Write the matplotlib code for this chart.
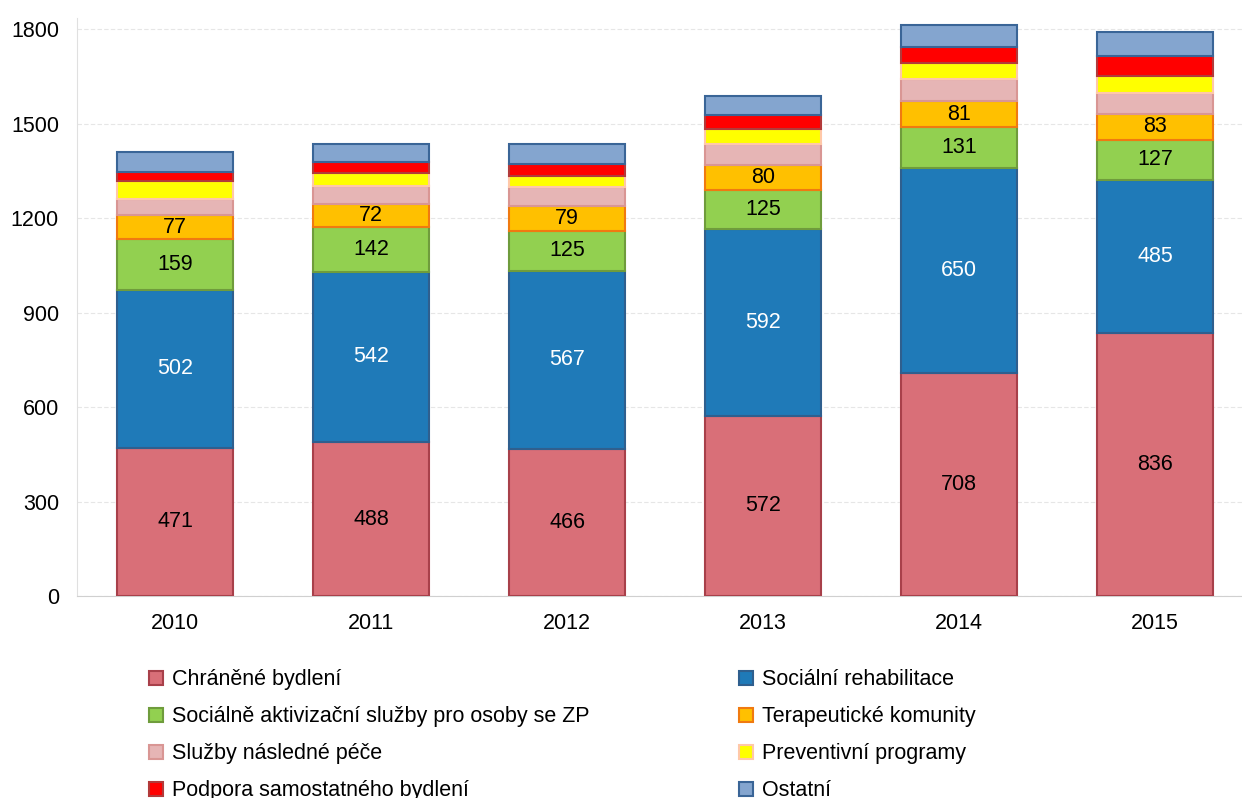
import matplotlib
matplotlib.use("Agg")
import matplotlib.pyplot as plt
import numpy as np

plt.rcParams['font.family'] = ['Liberation Sans', 'DejaVu Sans']

# ─── data ────────────────────────────────────────────────────────────────
years = ["2010", "2011", "2012", "2013", "2014", "2015"]
chranene = [471, 488, 466, 572, 708, 836]
rehabilitace = [502, 542, 567, 592, 650, 485]
aktivizacni = [159, 142, 125, 125, 131, 127]
terapeuticke = [77, 72, 79, 80, 81, 83]
nasledne = [51, 57, 63, 67, 70, 67]
preventivni = [57, 41, 32, 48, 51, 54]
podpora = [29, 35, 41, 44, 51, 63]
ostatni = [63, 57, 63, 60, 70, 76]

series = [
    ("Chráněné bydlení", chranene, "#D96F78", "#A8404A", "black"),
    ("Sociální rehabilitace", rehabilitace, "#1F7AB8", "#2F5F8E", "white"),
    ("Sociálně aktivizační služby pro osoby se ZP", aktivizacni, "#92D050", "#6F9C3C", "black"),
    ("Terapeutické komunity", terapeuticke, "#FFC000", "#F07A10", "black"),
    ("Služby následné péče", nasledne, "#E6B5B5", "#D99694", None),
    ("Preventivní programy", preventivni, "#FFFF00", "#FFC8A8", None),
    ("Podpora samostatného bydlení", podpora, "#FF0000", "#B23A3A", None),
    ("Ostatní", ostatni, "#84A5CF", "#3A6597", None),
]

W, H = 1242, 798
FS = 15.5
fig = plt.figure(figsize=(W / 100, H / 100), dpi=100)
# plot area: x from 77px, 196px per category; y=0 at 596px
ax = fig.add_axes([77 / W, (H - 596) / H, 1176 / W, (596 - 18) / H])

x = np.arange(len(years))
bottom = np.zeros(len(years))
handles = []
for name, vals, fc, ec, txt in series:
    vals = np.array(vals, dtype=float)
    bars = ax.bar(x, vals, 0.59, bottom=bottom, color=fc, edgecolor=ec,
                  linewidth=1.5, label=name, zorder=3)
    if txt is not None:
        for xi, b, v in zip(x, bottom, vals):
            ax.text(xi, b + v / 2, f"{int(v)}", ha="center", va="center",
                    fontsize=FS, color=txt, zorder=4)
    handles.append(bars)
    bottom += vals

ax.set_xlim(-0.5, 5.5)
ax.set_ylim(0, 1835)
ax.set_yticks(range(0, 1801, 300))
ax.set_xticks(x)
ax.set_xticklabels(years)
ax.tick_params(axis="both", labelsize=FS, length=0, colors="black")
ax.tick_params(axis="y", pad=13)
ax.tick_params(axis="x", pad=12)
ax.yaxis.grid(True, color="#E6E6E6", linewidth=0.8, linestyle=(0, (4, 2)), zorder=0)
for side in ["top", "right"]:
    ax.spines[side].set_visible(False)
ax.spines["left"].set_color("#E0E0E0")
ax.spines["bottom"].set_color("#D0D0D0")

# legend in two separate columns, placed like the original
leg_kw = dict(loc="upper left", frameon=False, fontsize=FS, handlelength=0.62,
              handleheight=0.62, handletextpad=0.45, labelspacing=0.74)
left = [0, 2, 4, 6]
right = [1, 3, 5, 7]
fig.legend([handles[i] for i in left], [series[i][0] for i in left],
           bbox_to_anchor=(130 / W, 1 - 650 / H), **leg_kw)
fig.legend([handles[i] for i in right], [series[i][0] for i in right],
           bbox_to_anchor=(720 / W, 1 - 650 / H), **leg_kw)

fig.savefig("out.png", dpi=100)
